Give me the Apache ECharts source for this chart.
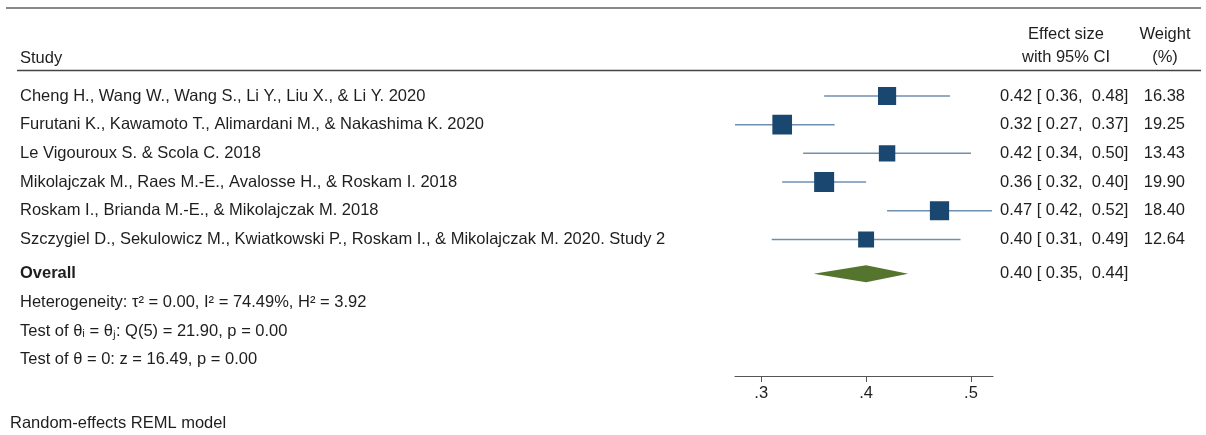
<!DOCTYPE html>
<html>
<head>
<meta charset="utf-8">
<script src="https://cdn.jsdelivr.net/npm/echarts@6/dist/echarts.min.js"></script>
<style>
  html, body { margin: 0; padding: 0; background: #fff; }
  #chart { width: 1206px; height: 435px; }
</style>
</head>
<body>
<div id="chart"></div>
<script>
(function() {
    // 数据
    var studies = [
        'Cheng H., Wang W., Wang S., Li Y., Liu X., & Li Y. 2020',
        'Furutani K., Kawamoto T., Alimardani M., & Nakashima K. 2020',
        'Le Vigouroux S. & Scola C. 2018',
        'Mikolajczak M., Raes M.-E., Avalosse H., & Roskam I. 2018',
        'Roskam I., Brianda M.-E., & Mikolajczak M. 2018',
        'Szczygiel D., Sekulowicz M., Kwiatkowski P., Roskam I., & Mikolajczak M. 2020. Study 2'
    ];
    var effect = [0.42, 0.32, 0.42, 0.36, 0.47, 0.40];
    var lower = [0.36, 0.27, 0.34, 0.32, 0.42, 0.31];
    var upper = [0.48, 0.37, 0.50, 0.40, 0.52, 0.49];
    var weight = [16.38, 19.25, 13.43, 19.90, 18.40, 12.64];

    var overall = { est: 0.40, lo: 0.35, hi: 0.44 };
    var overallRow = 6.2;
    var notes = [
        'Heterogeneity: τ² = 0.00, I² = 74.49%, H² = 3.92',
        'Test of θᵢ = θⱼ: Q(5) = 21.90, p = 0.00',
        'Test of θ = 0: z = 16.49, p = 0.00'
    ];
    var noteRows = [7.2, 8.2, 9.2];
    var xTicks = [0.3, 0.4, 0.5];

    var FONT = '"Liberation Sans", Arial, Helvetica, sans-serif';
    var FS = '16.5px ';
    var SQ = '#1a476f', CI = '#6f8fb0', DIA = '#55752f', TXT = '#1e1e1e';

    function fmt(v) { return v.toFixed(2); }

    var myChart = echarts.init(document.getElementById('chart'));

    var studyData = [];
    for (var i = 0; i < studies.length; i++) {
        studyData.push([i, effect[i], lower[i], upper[i], weight[i]]);
    }
    var maxW = Math.max.apply(null, weight);

    var textData = [];
    for (var i = 0; i < studies.length; i++) {
        textData.push({ value: [i], left: studies[i], ci: fmt(effect[i]) + ' [ ' + fmt(lower[i]) + ',  ' + fmt(upper[i]) + ']', w: fmt(weight[i]), bold: false });
    }
    textData.push({ value: [overallRow], left: 'Overall', ci: fmt(overall.est) + ' [ ' + fmt(overall.lo) + ',  ' + fmt(overall.hi) + ']', w: '', bold: true });
    for (var j = 0; j < notes.length; j++) {
        textData.push({ value: [noteRows[j]], left: notes[j], ci: '', w: '', bold: false });
    }

    function hText(x, y, s, align) {
        return { type: 'text', x: x, y: y, style: { text: s, font: FS + FONT, fill: TXT, align: align || 'left', verticalAlign: 'middle' } };
    }

    var option = {
        backgroundColor: '#fff',
        animation: false,
        grid: { left: 735, right: 213, top: 67.3, bottom: 59 },
        xAxis: {
            type: 'value',
            min: 0.275,
            max: 0.521,
            splitLine: { show: false },
            axisLine: { onZero: false, lineStyle: { color: '#555', width: 1.2 } },
            axisTick: { customValues: xTicks, length: 6, lineStyle: { color: '#555' } },
            axisLabel: {
                customValues: xTicks,
                color: TXT, fontFamily: FONT, fontSize: 16.5, margin: 9,
                formatter: function(v) { return String(v).replace(/^0/, ''); }
            }
        },
        yAxis: {
            type: 'value', inverse: true, min: -1, max: 9.76, show: false
        },
        graphic: [
            { type: 'line', shape: { x1: 6, y1: 8, x2: 1201, y2: 8 }, style: { stroke: '#888', lineWidth: 2 } },
            { type: 'line', shape: { x1: 17, y1: 70.5, x2: 1201, y2: 70.5 }, style: { stroke: '#444', lineWidth: 1.5 } },
            hText(20, 58, 'Study'),
            hText(1066, 34, 'Effect size', 'center'),
            hText(1066, 57, 'with 95% CI', 'center'),
            hText(1165, 34, 'Weight', 'center'),
            hText(1165, 57, '(%)', 'center'),
            hText(10, 423, 'Random-effects REML model')
        ],
        series: [
            {
                // 置信区间 + 方块
                type: 'custom',
                data: studyData,
                clip: true,
                encode: { x: [1, 2, 3], y: 0 },
                renderItem: function(params, api) {
                    var y = api.value(0);
                    var c = api.coord([api.value(1), y]);
                    var l = api.coord([api.value(2), y]);
                    var u = api.coord([api.value(3), y]);
                    var side = 20 * Math.sqrt(api.value(4) / maxW);
                    return {
                        type: 'group',
                        children: [
                            { type: 'line', shape: { x1: l[0], y1: c[1], x2: u[0], y2: c[1] }, style: { stroke: CI, lineWidth: 1.5 } },
                            { type: 'rect', shape: { x: c[0] - side / 2, y: c[1] - side / 2, width: side, height: side }, style: { fill: SQ } }
                        ]
                    };
                }
            },
            {
                // 总体效应菱形
                type: 'custom',
                data: [[overallRow, overall.est, overall.lo, overall.hi]],
                encode: { x: [1, 2, 3], y: 0 },
                renderItem: function(params, api) {
                    var y = api.value(0);
                    var c = api.coord([api.value(1), y]);
                    var l = api.coord([api.value(2), y]);
                    var u = api.coord([api.value(3), y]);
                    var h = 8.5;
                    return {
                        type: 'polygon',
                        shape: { points: [[l[0], c[1]], [c[0], c[1] - h], [u[0], c[1]], [c[0], c[1] + h]] },
                        style: { fill: DIA }
                    };
                }
            },
            {
                // 文字列
                type: 'custom',
                data: textData,
                encode: { y: 0 },
                clip: false,
                renderItem: function(params, api) {
                    var d = textData[params.dataIndex];
                    var y = api.coord([0.4, api.value(0)])[1];
                    var font = (d.bold ? 'bold ' : '') + FS + FONT;
                    return {
                        type: 'group',
                        children: [
                            { type: 'text', x: 20, y: y, style: { text: d.left, font: font, fill: TXT, verticalAlign: 'middle' } },
                            { type: 'text', x: 1000, y: y, style: { text: d.ci, font: FS + FONT, fill: TXT, verticalAlign: 'middle' } },
                            { type: 'text', x: 1185, y: y, style: { text: d.w, font: FS + FONT, fill: TXT, verticalAlign: 'middle', align: 'right' } }
                        ]
                    };
                }
            }
        ]
    };

    myChart.setOption(option);
})();
</script>
</body>
</html>
